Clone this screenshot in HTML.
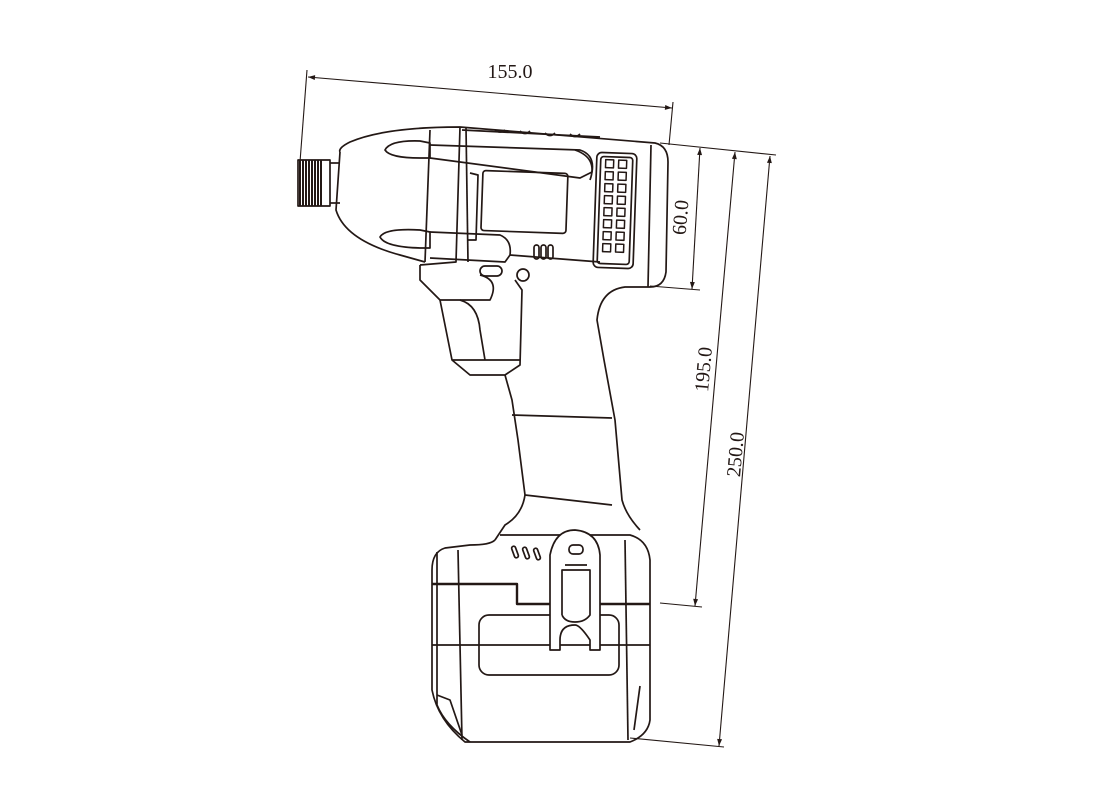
<!DOCTYPE html>
<html><head><meta charset="utf-8"><style>
html,body{margin:0;padding:0;background:#fff}
svg{display:block}
text{font-family:"Liberation Serif",serif;font-size:20px;fill:#231815}
</style></head><body>
<svg width="1100" height="809" viewBox="0 0 1100 809" xmlns="http://www.w3.org/2000/svg">
<defs>
<marker id="a" viewBox="0 0 10 10" refX="10" refY="5" markerWidth="12" markerHeight="7" orient="auto-start-reverse" markerUnits="userSpaceOnUse"><path d="M0,1.5 L10,5 L0,8.5 z" fill="#231815"/></marker>
</defs>
<g stroke="#231815" fill="none" stroke-width="1.1">
<line x1="307" y1="70" x2="300" y2="162"/>
<line x1="673" y1="102" x2="669" y2="145"/>
<line x1="308" y1="77" x2="672" y2="108" marker-start="url(#a)" marker-end="url(#a)"/>
<line x1="660" y1="143" x2="776" y2="155"/>
<line x1="700" y1="148" x2="692" y2="289" marker-start="url(#a)" marker-end="url(#a)"/>
<line x1="650" y1="286" x2="700" y2="290"/>
<line x1="735" y1="152" x2="695" y2="606" marker-start="url(#a)" marker-end="url(#a)"/>
<line x1="660" y1="603" x2="702" y2="607"/>
<line x1="770" y1="156" x2="719" y2="746" marker-start="url(#a)" marker-end="url(#a)"/>
<line x1="630" y1="738" x2="724" y2="747"/>
</g>
<text x="510" y="78" text-anchor="middle">155.0</text>
<text transform="translate(687,218) rotate(-85)" text-anchor="middle">60.0</text>
<text transform="translate(710,370) rotate(-85)" text-anchor="middle">195.0</text>
<text transform="translate(742,455) rotate(-85)" text-anchor="middle">250.0</text>

<g stroke="#231815" fill="none" stroke-width="1.7" stroke-linejoin="round">
<rect x="298" y="160" width="32" height="46" fill="#fff"/>
<g stroke-width="2">
<line x1="300" y1="160" x2="300" y2="206"/><line x1="303" y1="160" x2="303" y2="206"/><line x1="306" y1="160" x2="306" y2="206"/><line x1="309" y1="160" x2="309" y2="206"/><line x1="312" y1="160" x2="312" y2="206"/><line x1="315" y1="160" x2="315" y2="206"/><line x1="318" y1="160" x2="318" y2="206"/><line x1="321" y1="160" x2="321" y2="206"/>
</g>
<line x1="330" y1="163" x2="340" y2="163"/><line x1="330" y1="203" x2="340" y2="203"/>
<path d="M340 152 Q338 148 350 142 Q385 127 460 127 L655 143 Q668 146 668 162 L666 272 Q664 287 650 287 L625 287 Q600 290 597 320 L604 360 L615 420 L622 500 Q626 515 640 530"/>
<path d="M340 152 L336 210 Q345 240 400 255 L425 262"/>
<line x1="430" y1="130" x2="425" y2="262"/>
<path d="M460 127 L456 262 L420 265"/>
<path d="M462 130 L600 137"/>
<path d="M466 127 L468 262"/>
<path d="M385 150 Q390 140 420 141 L430 143 L430 158 L420 158 Q390 158 385 150z"/>
<path d="M430 145 L580 150 Q595 155 592 172 L580 178 L430 158"/>
<path d="M575 150 Q598 158 590 180"/>
<path d="M380 237 Q385 228 420 230 L430 232 L430 248 L420 248 Q385 247 380 237z"/>
<path d="M430 232 L500 235 Q512 240 510 255 L505 262 L430 258"/>
<rect x="482" y="172" width="85" height="60" rx="3" transform="rotate(2 525 200)"/>
<path d="M470 173 L478 175 L476 240 L468 240"/>
<rect x="595" y="153" width="40" height="115" rx="5" transform="rotate(2 615 210)"/>
<rect x="599" y="157" width="32" height="107" rx="3" transform="rotate(2 615 210)"/>
<g transform="rotate(2 615 210)" stroke-width="1.5">
<rect x="604" y="160" width="8" height="8"/><rect x="617" y="160" width="8" height="8"/>
<rect x="604" y="172" width="8" height="8"/><rect x="617" y="172" width="8" height="8"/>
<rect x="604" y="184" width="8" height="8"/><rect x="617" y="184" width="8" height="8"/>
<rect x="604" y="196" width="8" height="8"/><rect x="617" y="196" width="8" height="8"/>
<rect x="604" y="208" width="8" height="8"/><rect x="617" y="208" width="8" height="8"/>
<rect x="604" y="220" width="8" height="8"/><rect x="617" y="220" width="8" height="8"/>
<rect x="604" y="232" width="8" height="8"/><rect x="617" y="232" width="8" height="8"/>
<rect x="604" y="244" width="8" height="8"/><rect x="617" y="244" width="8" height="8"/>
</g>
<line x1="651" y1="145" x2="648" y2="287"/>
<path d="M495 130 q5 4 10 0 M520 131 q5 5 10 0 M545 133 q5 5 10 0 M570 134 q5 5 10 0"/>
<rect x="534" y="245" width="5" height="14" rx="2.5"/><rect x="541" y="245" width="5" height="14" rx="2.5"/><rect x="548" y="245" width="5" height="14" rx="2.5"/>
<line x1="510" y1="255" x2="600" y2="262"/>
<rect x="480" y="266" width="22" height="10" rx="5"/>
<circle cx="523" cy="275" r="6"/>
<path d="M420 265 L420 280 L440 300 L490 300 Q500 280 480 275"/>
<path d="M440 300 L452 360 L470 375 L505 375 L520 365 L522 290 L515 280"/>
<path d="M460 300 Q478 305 480 330 L485 360"/>
<path d="M452 360 L520 360"/>
<path d="M505 375 L512 400 L518 440 L525 495 Q522 515 505 525 L495 540"/>
<path d="M512 415 L612 418"/>
<path d="M525 495 L612 505"/>
<path d="M495 540 Q490 545 470 545 L445 548 Q432 552 432 570 L432 690 Q438 720 465 742 L630 742 Q648 735 650 720 L650 560 Q648 540 630 535 L500 535"/>
<path d="M437 552 L437 705 Q445 725 470 742"/>
<line x1="458" y1="550" x2="462" y2="740"/>
<line x1="625" y1="540" x2="628" y2="740"/>
<path d="M432 584 L517 584 L517 604 L650 604" stroke-width="2.4"/>
<path d="M432 645 L650 645" stroke-width="1.8"/>
<rect x="479" y="615" width="140" height="60" rx="10"/>
<path d="M437 695 L450 700 L462 735"/>
<path d="M640 686 L634 730"/>
<path d="M550 650 L550 555 Q555 530 575 530 Q598 532 600 555 L600 650 L590 650 L590 640 Q580 625 575 625 Q560 625 560 640 L560 650 z" fill="#fff"/>
<path d="M562 615 L562 570 L590 570 L590 615 Q585 622 575 622 Q565 622 562 615"/>
<rect x="569" y="545" width="14" height="9" rx="4"/>
<line x1="565" y1="565" x2="587" y2="565"/>
<rect x="513" y="546" width="4" height="12" rx="2" transform="rotate(-20 515 552)"/>
<rect x="524" y="547" width="4" height="12" rx="2" transform="rotate(-20 526 553)"/>
<rect x="535" y="548" width="4" height="12" rx="2" transform="rotate(-20 537 554)"/>
</g>
</svg>
</body></html>
